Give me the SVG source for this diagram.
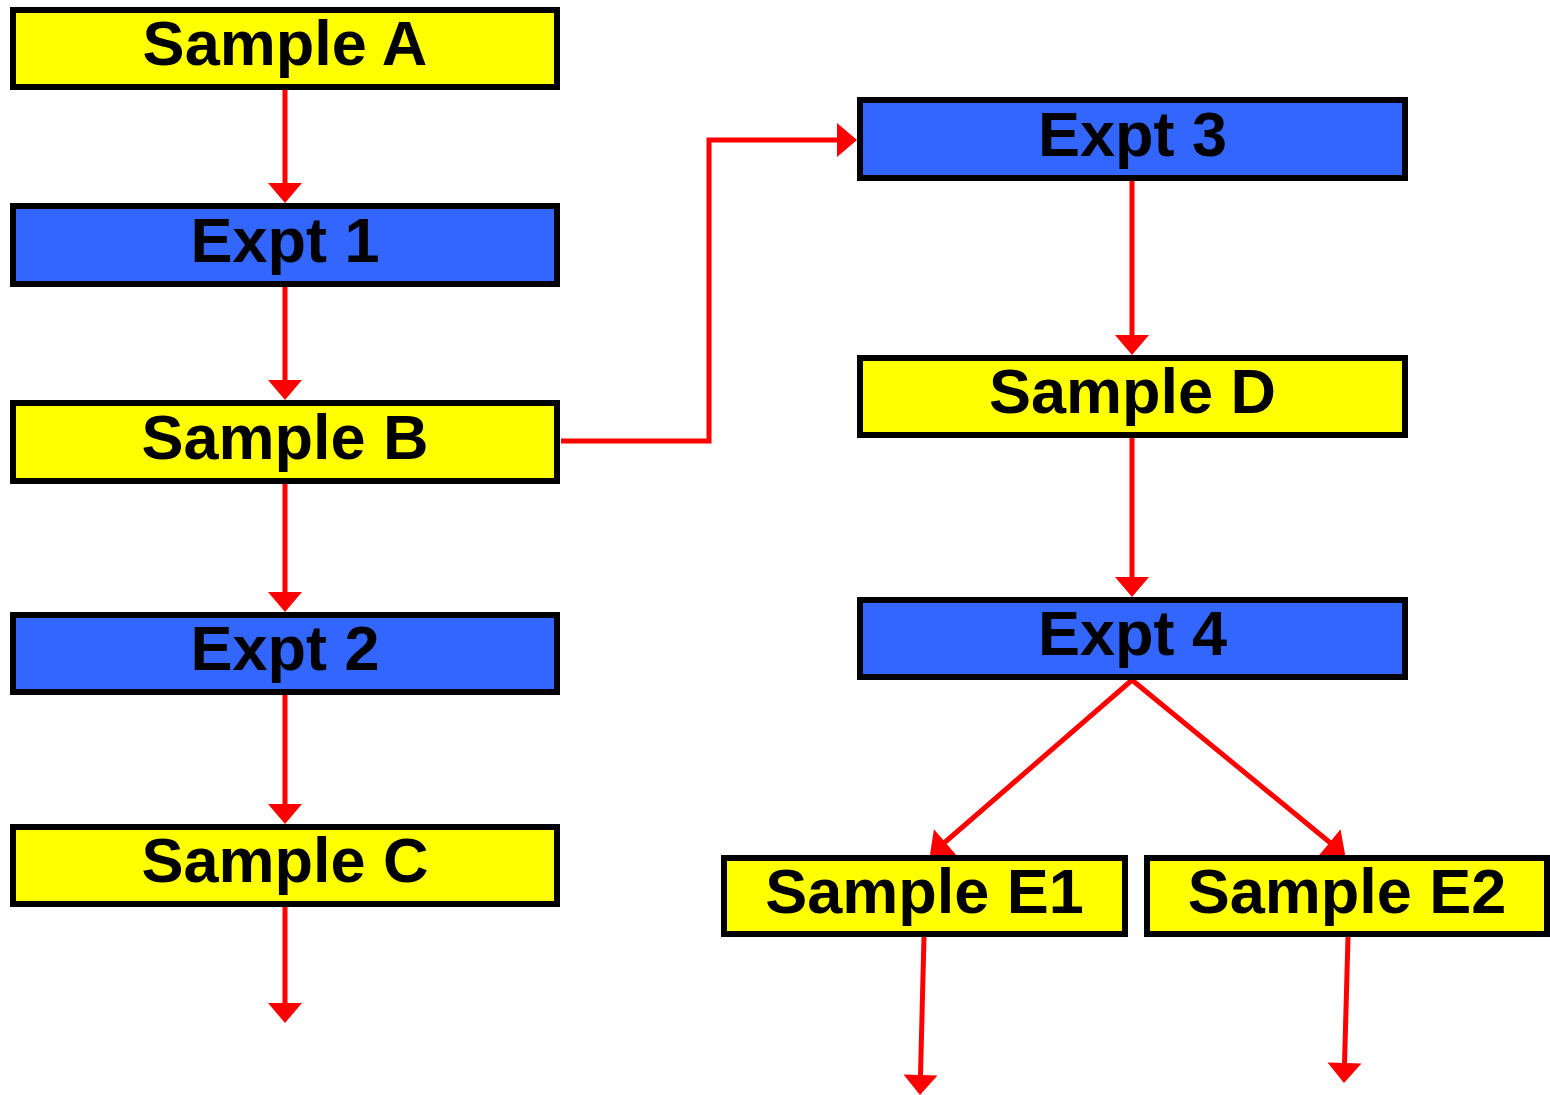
<svg xmlns="http://www.w3.org/2000/svg" width="1550" height="1095" viewBox="0 0 1550 1095">
<style>
.box{stroke:#000;stroke-width:6}
.s{fill:#FFFF00}
.e{fill:#3366FF}
.t{font-family:"Liberation Sans",Arial,sans-serif;font-weight:bold;font-size:63px;fill:#000;text-anchor:middle}
.c{fill:none;stroke:#FF0000;stroke-width:5}
</style>
<defs>
<marker id="ah" markerUnits="userSpaceOnUse" markerWidth="20" markerHeight="34" refX="12" refY="17" orient="auto" overflow="visible">
<path d="M0,0 L20,17 L0,34 z" fill="#FF0000"/>
</marker>
</defs>
<rect width="1550" height="1095" fill="#fff"/>
<g id="connectors">
<path class="c" d="M285,90 V195" marker-end="url(#ah)"/>
<path class="c" d="M285,287 V392" marker-end="url(#ah)"/>
<path class="c" d="M285,484 V604" marker-end="url(#ah)"/>
<path class="c" d="M285,695 V816" marker-end="url(#ah)"/>
<path class="c" d="M285,907 V1015" marker-end="url(#ah)"/>
<path class="c" d="M561,441 H709 V140 H849" marker-end="url(#ah)"/>
<path class="c" d="M1132,181 V347" marker-end="url(#ah)"/>
<path class="c" d="M1132,438 V589" marker-end="url(#ah)"/>
<path class="c" d="M1132,680 L936,850" marker-end="url(#ah)"/>
<path class="c" d="M1132,680 L1339,850" marker-end="url(#ah)"/>
<path class="c" d="M924,937 L920.2,1087" marker-end="url(#ah)"/>
<path class="c" d="M1348,937 L1344.2,1075" marker-end="url(#ah)"/>
</g>
<g id="sampleA"><rect class="box s" x="13" y="10" width="544" height="77"/><text class="t" x="285" y="65">Sample A</text></g>
<g id="expt1"><rect class="box e" x="13" y="206" width="544" height="78"/><text class="t" x="285" y="262">Expt 1</text></g>
<g id="sampleB"><rect class="box s" x="13" y="403" width="544" height="78"/><text class="t" x="285" y="459">Sample B</text></g>
<g id="expt2"><rect class="box e" x="13" y="615" width="544" height="77"/><text class="t" x="285" y="670">Expt 2</text></g>
<g id="sampleC"><rect class="box s" x="13" y="827" width="544" height="77"/><text class="t" x="285" y="882">Sample C</text></g>
<g id="expt3"><rect class="box e" x="860" y="100" width="545" height="78"/><text class="t" x="1132.5" y="156">Expt 3</text></g>
<g id="sampleD"><rect class="box s" x="860" y="358" width="545" height="77"/><text class="t" x="1132.5" y="413">Sample D</text></g>
<g id="expt4"><rect class="box e" x="860" y="600" width="545" height="77"/><text class="t" x="1132.5" y="655">Expt 4</text></g>
<g id="sampleE1"><rect class="box s" x="724" y="858" width="401" height="76"/><text class="t" x="924.5" y="913">Sample E1</text></g>
<g id="sampleE2"><rect class="box s" x="1147" y="858" width="400" height="76"/><text class="t" x="1347" y="913">Sample E2</text></g>
</svg>
